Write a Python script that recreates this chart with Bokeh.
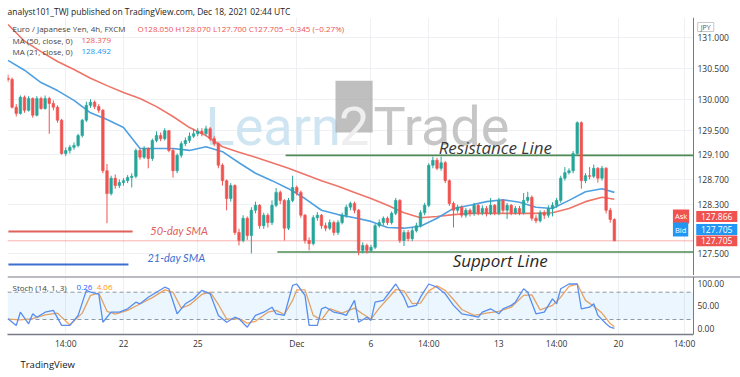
from bokeh.plotting import figure
from bokeh.layouts import column
from bokeh.models import (Range1d, FixedTicker, NumeralTickFormatter, Label, Span,
                          BoxAnnotation, Grid, ColumnDataSource, Title)
from bokeh.core.properties import value
from bokeh.embed import file_html
from bokeh.resources import INLINE

FONT = "Open Sans"

# ---------------- data (4h candles, index 0..147) ----------------
opens = [130.34, 130.32, 129.87, 129.77, 130.03, 129.82, 130.01, 129.74, 130.01, 129.85,
         130.01, 129.93, 129.87, 129.66, 129.12, 129.17, 129.22, 129.25, 129.41, 129.66,
         129.90, 129.95, 129.88, 129.82, 128.84, 128.47, 128.72, 128.60, 128.65, 128.68,
         128.73, 128.75, 129.17, 129.06, 129.20, 129.04, 129.33, 129.41, 129.36, 129.49,
         129.17, 128.84, 129.09, 129.28, 129.33, 129.40, 129.44, 129.48, 129.44, 129.52,
         129.36, 129.28, 128.93, 128.68, 128.39, 128.60, 127.84, 127.71, 128.07, 127.79,
         128.20, 128.28, 127.95, 128.12, 128.00, 128.28, 128.49, 128.36, 127.91, 128.36,
         128.57, 128.49, 128.12, 127.71, 127.66, 128.08, 128.12, 127.95, 127.91, 128.00,
         127.84, 128.00, 128.12, 128.25, 128.31, 128.20, 127.55, 127.63, 127.55, 127.60,
         127.95, 128.00, 128.07, 128.00, 128.15, 128.36, 127.71, 127.84, 127.74, 127.87,
         127.95, 128.16, 128.28, 128.93, 129.01, 128.88, 128.97, 128.68, 128.31, 128.20,
         128.25, 128.12, 128.20, 128.15, 128.28, 128.16, 128.23, 128.15, 128.28, 128.16,
         128.36, 128.20, 128.28, 128.16, 128.23, 128.16, 128.36, 128.41, 128.07, 128.03,
         128.16, 128.12, 128.23, 128.28, 128.36, 128.72, 128.81, 128.84, 129.12, 129.62,
         128.68, 128.76, 128.75, 128.88, 128.72, 128.88, 128.20, 128.05]
closes = [130.32, 129.87, 129.77, 130.03, 129.82, 130.01, 129.74, 130.01, 129.85, 130.01,
          129.93, 129.87, 129.66, 129.12, 129.17, 129.22, 129.25, 129.41, 129.66, 129.90,
          129.95, 129.88, 129.82, 128.84, 128.47, 128.72, 128.60, 128.65, 128.68, 128.73,
          128.75, 129.17, 129.06, 129.20, 129.04, 129.33, 129.41, 129.36, 129.49, 129.17,
          128.84, 129.09, 129.28, 129.33, 129.40, 129.44, 129.48, 129.44, 129.52, 129.36,
          129.28, 128.93, 128.68, 128.39, 128.60, 127.84, 127.71, 128.07, 127.79, 128.20,
          128.28, 127.95, 128.12, 128.00, 128.28, 128.49, 128.36, 127.91, 128.36, 128.57,
          128.49, 128.12, 127.71, 127.66, 128.08, 128.12, 127.95, 127.91, 128.00, 127.84,
          128.00, 128.12, 128.25, 128.31, 128.20, 127.55, 127.63, 127.55, 127.60, 127.95,
          128.00, 128.07, 128.00, 128.15, 128.36, 127.71, 127.84, 127.74, 127.87, 127.95,
          128.16, 128.28, 128.93, 129.01, 128.88, 128.97, 128.68, 128.31, 128.20, 128.25,
          128.12, 128.20, 128.15, 128.28, 128.16, 128.23, 128.15, 128.28, 128.16, 128.36,
          128.20, 128.28, 128.16, 128.23, 128.16, 128.36, 128.41, 128.07, 128.03, 128.16,
          128.12, 128.23, 128.28, 128.36, 128.72, 128.81, 128.84, 129.12, 129.62, 128.68,
          128.76, 128.75, 128.88, 128.72, 128.88, 128.20, 128.05, 127.705]
highs = [130.40, 130.35, 129.92, 130.06, 130.06, 130.05, 130.03, 130.05, 130.04, 130.06,
         130.04, 129.98, 129.90, 129.68, 129.22, 129.26, 129.30, 129.44, 129.68, 129.96,
         130.00, 129.98, 129.92, 129.84, 128.95, 128.76, 128.78, 128.70, 128.72, 128.77,
         128.80, 129.20, 129.20, 129.24, 129.22, 129.36, 129.48, 129.46, 129.53, 129.50,
         129.20, 129.12, 129.32, 129.38, 129.46, 129.52, 129.53, 129.53, 129.57, 129.55,
         129.40, 129.30, 128.96, 128.70, 128.64, 128.62, 127.90, 128.12, 128.10, 128.25,
         128.34, 128.30, 128.16, 128.15, 128.36, 128.56, 128.52, 128.38, 128.40, 128.76,
         128.60, 128.52, 128.14, 127.76, 128.12, 128.17, 128.14, 128.00, 128.05, 128.03,
         128.04, 128.16, 128.29, 128.34, 128.34, 128.22, 127.68, 127.66, 127.64, 127.98,
         128.05, 128.10, 128.10, 128.18, 128.40, 128.38, 127.88, 127.88, 127.92, 128.00,
         128.20, 128.32, 128.96, 129.07, 129.05, 129.07, 129.00, 128.70, 128.34, 128.29,
         128.28, 128.24, 128.23, 128.32, 128.30, 128.28, 128.27, 128.40, 128.30, 128.40,
         128.38, 128.32, 128.30, 128.27, 128.27, 128.48, 128.50, 128.44, 128.12, 128.20,
         128.20, 128.28, 128.33, 128.40, 128.76, 128.90, 128.88, 129.16, 129.64, 129.64,
         128.80, 128.90, 128.94, 128.90, 128.92, 128.90, 128.24, 128.07]
lows = [130.28, 129.85, 129.72, 129.75, 129.78, 129.80, 129.70, 129.72, 129.83, 129.83,
        129.44, 129.82, 129.62, 129.10, 129.08, 129.12, 129.18, 129.22, 129.38, 129.63,
        129.86, 129.84, 129.78, 128.80, 127.99, 128.44, 128.55, 128.56, 128.60, 128.64,
        128.57, 128.72, 129.02, 129.03, 128.88, 129.00, 129.30, 129.32, 129.33, 129.14,
        128.73, 128.80, 129.05, 129.24, 129.29, 129.37, 129.40, 129.40, 129.40, 129.32,
        129.24, 128.88, 128.60, 128.20, 128.34, 127.80, 127.63, 127.68, 127.72, 127.50,
        128.15, 127.90, 127.90, 127.92, 127.96, 128.25, 128.30, 127.71, 127.88, 128.33,
        128.44, 128.08, 127.66, 127.55, 127.63, 128.03, 127.90, 127.86, 127.88, 127.79,
        127.80, 127.97, 128.08, 128.20, 128.15, 127.47, 127.50, 127.50, 127.52, 127.57,
        127.92, 127.96, 127.96, 127.97, 128.12, 127.67, 127.62, 127.70, 127.70, 127.84,
        127.92, 128.12, 128.25, 128.88, 128.85, 128.84, 128.64, 128.27, 127.92, 128.16,
        128.08, 128.08, 128.10, 128.11, 128.12, 128.12, 128.10, 128.12, 128.12, 128.12,
        128.16, 128.06, 128.12, 128.13, 128.12, 128.13, 128.32, 128.03, 127.99, 128.00,
        128.06, 128.08, 128.10, 128.24, 128.32, 128.68, 128.78, 128.80, 129.08, 128.55,
        128.64, 128.70, 128.72, 128.65, 128.68, 128.15, 128.00, 127.70]

# moving averages
ma_idx = [0, 4, 8, 12, 16, 20, 24, 28, 32, 36, 40, 44, 48, 52, 56, 60, 64, 68, 72, 76,
          80, 84, 88, 92, 96, 100, 104, 108, 112, 116, 120, 124, 128, 132, 136, 140, 144, 147]
ma50 = [131.21, 130.94, 130.77, 130.61, 130.48, 130.34, 130.22, 130.11, 130.01, 129.88,
        129.72, 129.54, 129.41, 129.23, 129.14, 129.06, 128.97, 128.88, 128.78, 128.68,
        128.59, 128.49, 128.39, 128.28, 128.16, 128.08, 128.10, 128.13, 128.15, 128.15,
        128.15, 128.15, 128.15, 128.16, 128.23, 128.34, 128.41, 128.38]
ma21 = [130.63, 130.47, 130.27, 130.14, 129.98, 129.78, 129.67, 129.54, 129.20, 129.20,
        129.20, 129.17, 129.23, 129.15, 128.97, 128.80, 128.68, 128.55, 128.39, 128.20,
        128.13, 128.08, 128.02, 127.92, 127.91, 127.94, 128.07, 128.23, 128.28, 128.34,
        128.37, 128.33, 128.25, 128.23, 128.36, 128.50, 128.55, 128.49]

# stochastic (14,1,3)
k_idx = [0, 2, 3, 5, 6, 7, 9, 11, 13, 15, 17, 19, 20, 22, 23, 25, 27, 29, 31, 32,
         34, 38, 39, 41, 43, 45, 47, 49, 51, 53, 55, 56, 58, 60, 62, 64, 65, 67, 69, 70,
         72, 73, 75, 76, 77, 79, 81, 82, 84, 85, 87, 88, 89, 91, 94, 96, 97, 99, 100, 102,
         104, 106, 108, 110, 112, 114, 115, 117, 119, 120, 122, 123, 125, 126, 128, 130, 132, 133, 134, 136,
         138, 139, 141, 142, 143, 145, 146, 147]
k_val = [21.5, 6.8, 36, 10.5, 32.5, 25, 36, 40, 7, 7, 29, 84, 80, 76, 14, 36, 36, 43.5, 58, 54.5,
         69, 91, 87.5, 32.5, 54.5, 65.5, 84, 76.5, 29, 14, 25, 21.5, 3, 29, 36, 47, 32.5, 29, 95, 98,
         73, 7, 7, 43.5, 47, 36, 32.5, 29, 62, 14, 25, 18, 58, 62, 98, 69, 47, 51, 69, 98,
         91, 76.5, 51, 32.5, 29, 25, 36, 43.5, 32.5, 43.5, 51, 58, 87.5, 80, 32.5, 36, 65.5, 54.5, 87.5, 98,
         98, 43.5, 47, 54.5, 29, 10.5, 3, 0.26]
d_idx = [0, 3, 6, 9, 12, 15, 18, 20, 22, 24, 26, 29, 32, 35, 38, 40, 42, 44, 47, 49,
         51, 53, 56, 58, 60, 63, 65, 67, 69, 70, 72, 74, 76, 78, 81, 84, 86, 88, 90, 92,
         94, 96, 98, 100, 102, 104, 106, 108, 110, 113, 116, 119, 122, 125, 127, 129, 132, 134, 136, 138,
         140, 142, 144, 146, 147]
d_val = [21, 19, 22, 30, 34, 8, 34, 73, 78, 38, 32, 40, 54, 68, 85, 80, 45, 52, 75, 80,
         53, 21, 22, 12, 16, 36, 40, 31, 62, 85, 85, 29, 19, 44, 34, 45, 32, 21, 45, 65,
         86, 83, 55, 56, 83, 94, 84, 64, 42, 29, 34, 38, 47, 73, 74, 41, 51, 69, 93, 98,
         62, 49, 34, 11, 4.06]

price_ticks = [127.5, 128.3, 128.7, 129.1, 129.5, 130.0, 130.5, 131.0]
stoch_ticks = [0, 50, 100]
time_ticks = [14, 28, 46, 70, 88, 102, 119, 133, 148, 164]
time_labels = ["14:00", "22", "25", "Dec", "6", "14:00", "13", "14:00", "20", "14:00"]

level_prices = [129.09, 127.525]       # resistance, support
level_start = [67.3, 65.3]

# price-scale tags: (text, displayed at price, colour)
tag_text = ["127.866", "127.705", "127.705"]
tag_price = [128.099, 127.888, 127.705]
tag_color = ["#ef5350", "#2196f3", "#ef5350"]

UP, DOWN = "#26a69a", "#ef5350"
GRID = "#eef0f4"
AXIS = "#787b86"
TXT = "#333333"
XEND = 166.18          # right edge of the chart panes (price scale starts here)

idx = list(range(len(closes)))
colors = [UP if c >= o else DOWN for o, c in zip(opens, closes)]
src = ColumnDataSource(dict(
    x=idx, o=opens, h=highs, l=lows, c=closes, color=colors,
    top=[max(o, c) for o, c in zip(opens, closes)],
    bot=[min(o, c) for o, c in zip(opens, closes)]))

XR = Range1d(-0.12, 177.58)
YR1 = Range1d(127.143, 131.324)

# ---------------- price pane ----------------
p1 = figure(width=740, height=275, x_range=XR, y_range=YR1,
            output_backend="svg", toolbar_location=None, x_axis_type=None,
            y_axis_location="right", min_border_left=7, min_border_right=0,
            min_border_top=17, min_border_bottom=0)
p1.outline_line_color = None
p1.background_fill_color = "white"
p1.border_fill_color = "white"
p1.title.text = "analyst101_TWJ published on TradingView.com, Dec 18, 2021 02:44 UTC"
p1.title.text_font = FONT
p1.title.text_font_size = "8.5px"
p1.title.text_font_style = "normal"
p1.title.text_color = "#222222"
p1.title.align = "left"
p1.title.standoff = 2
p1.title.offset = 0
ax = p1.yaxis[0]
ax.fixed_location = XEND
ax.ticker = FixedTicker(ticks=price_ticks)
ax.formatter = NumeralTickFormatter(format="0.000")
ax.major_tick_line_color = None
ax.minor_tick_line_color = None
ax.major_tick_out = 0
ax.minor_tick_out = 0
ax.axis_line_color = AXIS
ax.major_label_text_font = FONT
ax.major_label_text_font_size = "8.5px"
ax.major_label_text_color = TXT
ax.major_label_standoff = 4
p1.ygrid.grid_line_color = GRID
p1.add_layout(Grid(dimension=0, ticker=FixedTicker(ticks=time_ticks), grid_line_color=GRID))

# white backing of the price scale area
p1.quad(left=[XEND], right=[XR.end + 1], bottom=[YR1.start - 1], top=[YR1.end + 1],
        fill_color="white", line_color=None)

# watermark
WM = value("Roboto")
p1.text(x=[47.9], y=[129.56], text=["Learn"], text_font=WM,
        text_font_size="54px", text_color="#cfe5f2", text_baseline="alphabetic")
p1.quad(left=[79.4], right=[88.4], top=[130.30], bottom=[129.46],
        fill_color="#a9a9a9", line_color=None, fill_alpha=0.75)
p1.text(x=[83.9], y=[129.56], text=["2"], text_font=WM,
        text_font_size="54px", text_color="#eeeeee", text_align="center",
        text_baseline="alphabetic")
p1.text(x=[88.6], y=[129.56], text=["Trade"], text_font=WM,
        text_font_size="54px", text_color="#c6c6c6", text_baseline="alphabetic")

# price line of last close
p1.segment(x0=[XR.start], y0=[closes[-1]], x1=[XEND], y1=[closes[-1]],
           line_color=DOWN, line_alpha=0.45, line_width=1)

# resistance / support
p1.segment(x0=level_start, y0=level_prices, x1=[XEND, XEND], y1=level_prices,
           line_color="#4f8a55", line_width=1.6)

# moving averages
p1.line(ma_idx, ma50, line_color="#ef7468", line_width=1.6)
p1.line(ma_idx, ma21, line_color="#4fa0e2", line_width=1.6)

# candles
p1.segment(x0="x", y0="l", x1="x", y1="h", line_color="color", line_width=1, source=src)
p1.vbar(x="x", width=0.62, top="top", bottom="bot", fill_color="color",
        line_color="color", line_width=0.6, source=src)

# SMA legend
p1.segment(x0=[0.1, 0.1], y0=[127.856, 127.32], x1=[30.2, 29.2], y1=[127.856, 127.32],
           line_color=["#e0605a", "#3e6fd0"], line_width=2)

# price-scale tags
p1.quad(left=[166.85] * 3, right=[176.8] * 3,
        top=[p + 0.088 for p in tag_price], bottom=[p - 0.088 for p in tag_price],
        fill_color=tag_color, line_color=None)
p1.text(x=[171.8] * 3, y=tag_price, text=tag_text, text_font=value(FONT),
        text_font_size="8.5px", text_color="white", text_align="center",
        text_baseline="middle")
# currency box
p1.quad(left=[167.2], right=[171.1], top=[131.243], bottom=[131.097],
        fill_color="white", line_color="#c8c8c8", line_width=1)
p1.text(x=[169.15], y=[131.17], text=["JPY"], text_font=value(FONT),
        text_font_size="7px", text_color="#555555", text_align="center",
        text_baseline="middle")


def lab(fig, x, y, text, size="8px", color=TXT, style="normal", font=FONT, **kw):
    fig.add_layout(Label(x=x, y=y, text=text, text_font=font, text_font_size=size,
                         text_color=color, text_font_style=style,
                         text_baseline="middle", text_align=kw.pop("align", "left"), **kw))


lab(p1, 104.4, 129.22, "Resistance  Line", size="17px", color="#3a3a3a", style="italic")
lab(p1, 107.8, 127.39, "Support Line", size="17px", color="#2a2a2a", style="italic")
lab(p1, 34.5, 127.87, "50-day SMA", size="11px", color="#e0605a", style="italic", font="Lato")
lab(p1, 33.8, 127.435, "21-day SMA", size="11px", color="#3e6fd0", style="italic", font="Lato")

# header texts
lab(p1, 1.09, 131.14, "Euro / Japanese Yen, 4h, FXCM", color="#444444")
lab(p1, 31.4, 131.14, "O128.050  H128.070  L127.700  C127.705  \u22120.345 (\u22120.27%)", color=DOWN)
lab(p1, 1.09, 130.95, "MA (50, close, 0)", color="#444444")
lab(p1, 17.8, 130.95, "128.379", color=DOWN)
lab(p1, 1.09, 130.775, "MA (21, close, 0)", color="#444444")
lab(p1, 17.8, 130.775, "128.492", color="#2196f3")

# Ask / Bid markers inside the pane
lab(p1, 161.2, 128.10, "Ask", size="7.5px", color="white", background_fill_color=DOWN, padding=2)
lab(p1, 161.2, 127.888, "Bid", size="7.5px", color="white", background_fill_color="#2196f3", padding=2)

# ---------------- stochastic pane ----------------
p2 = figure(width=740, height=102, x_range=XR, y_range=Range1d(-13, 114.5),
            output_backend="svg", toolbar_location=None, x_axis_location="below",
            y_axis_location="right", min_border_left=7, min_border_right=0,
            min_border_top=1, min_border_bottom=43)
p2.outline_line_color = None
p2.background_fill_color = "white"
p2.border_fill_color = "white"
ay = p2.yaxis[0]
ay.fixed_location = XEND
ay.ticker = FixedTicker(ticks=stoch_ticks)
ay.formatter = NumeralTickFormatter(format="0.00")
ay.major_tick_line_color = None
ay.minor_tick_line_color = None
ay.major_tick_out = 0
ay.minor_tick_out = 0
ay.axis_line_color = AXIS
ay.major_label_text_font = FONT
ay.major_label_text_font_size = "8.5px"
ay.major_label_text_color = TXT
ay.major_label_standoff = 4
axx = p2.xaxis[0]
axx.bounds = (XR.start, XEND)
axx.ticker = FixedTicker(ticks=time_ticks)
axx.major_label_overrides = {t: s for t, s in zip(time_ticks, time_labels)}
axx.major_tick_line_color = None
axx.minor_tick_line_color = None
axx.major_tick_out = 0
axx.minor_tick_out = 0
axx.axis_line_color = AXIS
axx.axis_line_width = 1.5
axx.major_label_text_font = FONT
axx.major_label_text_font_size = "8.5px"
axx.major_label_text_color = TXT
axx.major_label_standoff = 3
p2.xgrid.ticker = FixedTicker(ticks=time_ticks)
p2.xgrid.grid_line_color = GRID
p2.ygrid.grid_line_color = None

p2.add_layout(BoxAnnotation(left=XR.start, right=XEND, bottom=20, top=80,
                            fill_color="#2196f3", fill_alpha=0.09, line_color=None))
p2.segment(x0=[XR.start, XR.start], y0=[80, 20], x1=[XEND, XEND], y1=[80, 20],
           line_color="#9598a1", line_dash="4 3", line_width=1)
p2.add_layout(Span(location=114.5, dimension="width", line_color=AXIS, line_width=2))

p2.line(d_idx, d_val, line_color="#f5a35b", line_width=1.3)
p2.line(k_idx, k_val, line_color="#5b8def", line_width=1.3)

lab(p2, 1.09, 90.3, "Stoch (14, 1, 3)", color="#444444")
lab(p2, 16.6, 90.3, "0.26", color="#2962ff")
lab(p2, 21.5, 90.3, "4.06", color="#ff9800")

p2.add_layout(Title(text="TradingView", text_font=FONT, text_font_size="9.5px",
                    text_font_style="normal", text_color="#131722", align="left",
                    offset=13, standoff=8), "below")

layout = column(p1, p2, spacing=0)
open("out.html", "w").write(file_html(layout, INLINE))
